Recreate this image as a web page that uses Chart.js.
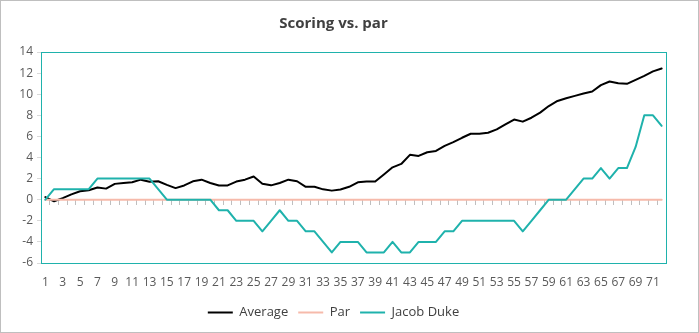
<!DOCTYPE html>
<html>
<head>
<meta charset="utf-8">
<script src="https://cdn.jsdelivr.net/npm/chart.js@4/dist/chart.umd.min.js"></script>
<style>
  html, body { margin: 0; padding: 0; background: #fff; }
  #wrap { width: 699px; height: 333px; box-sizing: border-box; border: 1px solid #bfbfbf; }
  canvas { display: block; }
</style>
</head>
<body>
<div id="wrap"><canvas id="scoreChart" width="697" height="331"></canvas></div>
<script>
/**************** DATA ****************/
const rounds = Array.from({ length: 72 }, (_, i) => String(i + 1));

const average = [
  0.25, -0.15, 0.15, 0.5, 0.8, 0.9, 1.15, 1.05, 1.5, 1.58,
  1.65, 1.9, 1.7, 1.75, 1.4, 1.1, 1.35, 1.74, 1.9, 1.58,
  1.35, 1.35, 1.72, 1.9, 2.2, 1.52, 1.36, 1.58, 1.9, 1.75,
  1.22, 1.22, 0.98, 0.86, 0.97, 1.22, 1.65, 1.72, 1.72, 2.38,
  3.07, 3.39, 4.25, 4.15, 4.5, 4.62, 5.1, 5.46, 5.87, 6.25,
  6.25, 6.35, 6.66, 7.14, 7.6, 7.4, 7.77, 8.25, 8.88, 9.36,
  9.62, 9.84, 10.06, 10.25, 10.86, 11.2, 11.04, 10.98, 11.36, 11.74,
  12.16, 12.44
];

const par = rounds.map(() => 0);

const jacobDuke = [
  0, 1, 1, 1, 1, 1, 2, 2, 2, 2,
  2, 2, 2, 1, 0, 0, 0, 0, 0, 0,
  -1, -1, -2, -2, -2, -3, -2, -1, -2, -2,
  -3, -3, -4, -5, -4, -4, -4, -5, -5, -5,
  -4, -5, -5, -4, -4, -4, -3, -3, -2, -2,
  -2, -2, -2, -2, -2, -3, -2, -1, 0, 0,
  0, 1, 2, 2, 3, 2, 3, 3, 5, 8,
  8, 7
];

const yMin = -6;
const yMax = 14;
const yStep = 2;

/**************** STYLE ****************/
const TEAL = "#1fb2ac";
const SALMON = "#f6baab";
const FONT = "'Open Sans', 'Noto Sans', sans-serif";

// teal frame round the plot area
const plotFrame = {
  id: "plotFrame",
  afterDraw(chart) {
    const a = chart.chartArea;
    const ctx = chart.ctx;
    ctx.save();
    ctx.strokeStyle = TEAL;
    ctx.lineWidth = 1;
    ctx.strokeRect(Math.round(a.left) + 0.5, Math.round(a.top) + 0.5,
      Math.round(a.right - a.left), Math.round(a.bottom - a.top));
    ctx.restore();
  }
};

new Chart(document.getElementById("scoreChart"), {
  type: "line",
  data: {
    labels: rounds,
    datasets: [
      { label: "Average", data: average, borderColor: "#000000", backgroundColor: "#000000", borderWidth: 2, order: 3 },
      { label: "Par", data: par, borderColor: SALMON, backgroundColor: SALMON, borderWidth: 2, order: 2 },
      { label: "Jacob Duke", data: jacobDuke, borderColor: TEAL, backgroundColor: TEAL, borderWidth: 2, order: 1 }
    ]
  },
  options: {
    responsive: false,
    animation: false,
    layout: { padding: { left: 0, right: 32, top: 0, bottom: 3 } },
    elements: {
      point: { radius: 0, hoverRadius: 0 },
      line: { tension: 0, borderCapStyle: "round", borderJoinStyle: "round" }
    },
    plugins: {
      title: {
        display: true,
        text: "Scoring vs. par",
        color: "#404040",
        font: { family: FONT, size: 15, weight: "bold" },
        padding: { top: 14, bottom: 19 }
      },
      legend: {
        position: "bottom",
        labels: {
          color: "#404040",
          font: { family: FONT, size: 13 },
          usePointStyle: true,
          pointStyle: "line",
          pointStyleWidth: 25,
          padding: 10,
          sort: (a, b) => a.datasetIndex - b.datasetIndex
        }
      },
      tooltip: { enabled: false }
    },
    scales: {
      x: {
        type: "category",
        offset: true,
        grid: { display: false, drawTicks: false },
        border: { display: false },
        ticks: {
          color: "#595959",
          font: { family: FONT, size: 12 },
          autoSkip: false,
          maxRotation: 0,
          padding: 12,
          callback: (v, i) => (i % 2 === 0 ? rounds[i] : "")
        },
        afterFit: s => { s.height = 33; }
      },
      xZero: {
        type: "category",
        position: { y: 0 },
        offset: true,
        grid: { offset: true, drawOnChartArea: false, drawTicks: true, tickLength: 5, color: "#bfbfbf" },
        border: { display: false },
        ticks: { display: false }
      },
      y: {
        min: yMin,
        max: yMax,
        grid: { drawOnChartArea: false, tickLength: 4, color: "#d9d9d9" },
        border: { display: false },
        ticks: {
          stepSize: yStep,
          color: "#595959",
          font: { family: FONT, size: 12 },
          padding: 4
        },
        afterFit: s => { s.width = 40; }
      }
    }
  },
  plugins: [plotFrame]
});
</script>
</body>
</html>
